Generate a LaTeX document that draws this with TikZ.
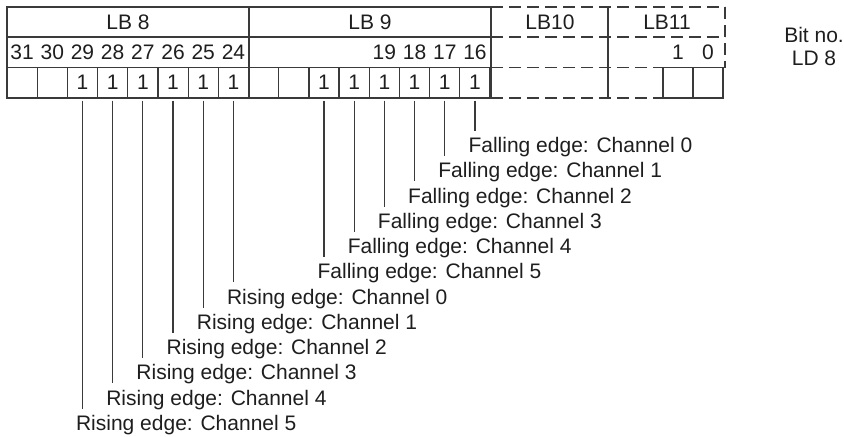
\documentclass[tikz,border=0pt]{standalone}
\usepackage{fontspec}
\setmainfont{Liberation Sans}
\definecolor{LineGray}{HTML}{3A3A3A}
\definecolor{TextGray}{HTML}{1E1E1E}

\begin{document}
\begin{tikzpicture}[x=0.5pt,y=-0.5pt, line width=0.6pt,
  every node/.style={font=\fontsize{10.5}{12}\selectfont, text=TextGray, inner sep=0pt},
  cell/.style={draw=LineGray, minimum width=15.1pt, minimum height=15.25pt},
  dashrule/.style={draw=LineGray, dash pattern=on 6pt off 3pt},
  lead/.style={draw=LineGray}]
  \useasboundingbox (0,0) rectangle (844,436);
  \draw[LineGray] (7,7) rectangle (491,98);
  \draw[LineGray] (7,37) -- (491,37);
  \draw[LineGray] (249,7) -- (249,98);
  \draw[LineGray] (608,7) -- (608,98);
  \draw[dashrule] (491,7) -- (725,7);
  \draw[dashrule] (491,37) -- (725,37);
  \draw[dashrule] (725,7) -- (725,67.5);
  \draw[dashrule] (491,67.5) -- (663,67.5);
  \draw[dashrule] (491,98) -- (663,98);
  \node (lb8) at (128,22) {LB 8};
  \node (lb9) at (370,22) {LB 9};
  \node (lb10) at (550,22) {LB10};
  \node (lb11) at (667,22) {LB11};
  \foreach \b/\v [count=\i from 0] in {31/{},30/{},29/1,28/1,27/1,26/1,25/1,24/1,23/{},22/{},21/1,20/1,19/1,18/1,17/1,16/1} {
    \node[cell] (b\b) at ({22.1+30.19*\i},82.75) {\v};
  }
  \foreach \b/\i in {31/0,30/1,29/2,28/3,27/4,26/5,25/6,24/7,19/12,18/13,17/14,16/15} {
    \node (n\b) at ({22.1+30.19*\i},52.25) {\b};
  }
  \node[cell, minimum width=15pt] (b1) at (678,82.75) {};
  \node[cell, minimum width=15pt] (b0) at (708,82.75) {};
  \node (n1) at (678,52.25) {1};
  \node (n0) at (708,52.25) {0};
  \node (bitno) at (814,35) {Bit no.};
  \node (ld8) at (814,58.5) {LD 8};
  \foreach \c/\b [count=\n from 0] in {0/16,1/17,2/18,3/19,4/20,5/21} {
    \node[anchor=base west] (fall\c) at ({22.1+30.19*(31-\b)-7},{152.5+25.27*\n}) {Falling edge: Channel \c};
    \draw[lead] ([yshift=-1pt]b\b.south) -- ([yshift=3pt]fall\c.north -| b\b.south);
  }
  \foreach \c/\b [count=\n from 6] in {0/24,1/25,2/26,3/27,4/28,5/29} {
    \node[anchor=base west] (rise\c) at ({22.1+30.19*(31-\b)-7},{152.5+25.27*\n}) {Rising edge: Channel \c};
    \draw[lead] ([yshift=-1pt]b\b.south) -- ([yshift=3pt]rise\c.north -| b\b.south);
  }
\end{tikzpicture}
\end{document}
